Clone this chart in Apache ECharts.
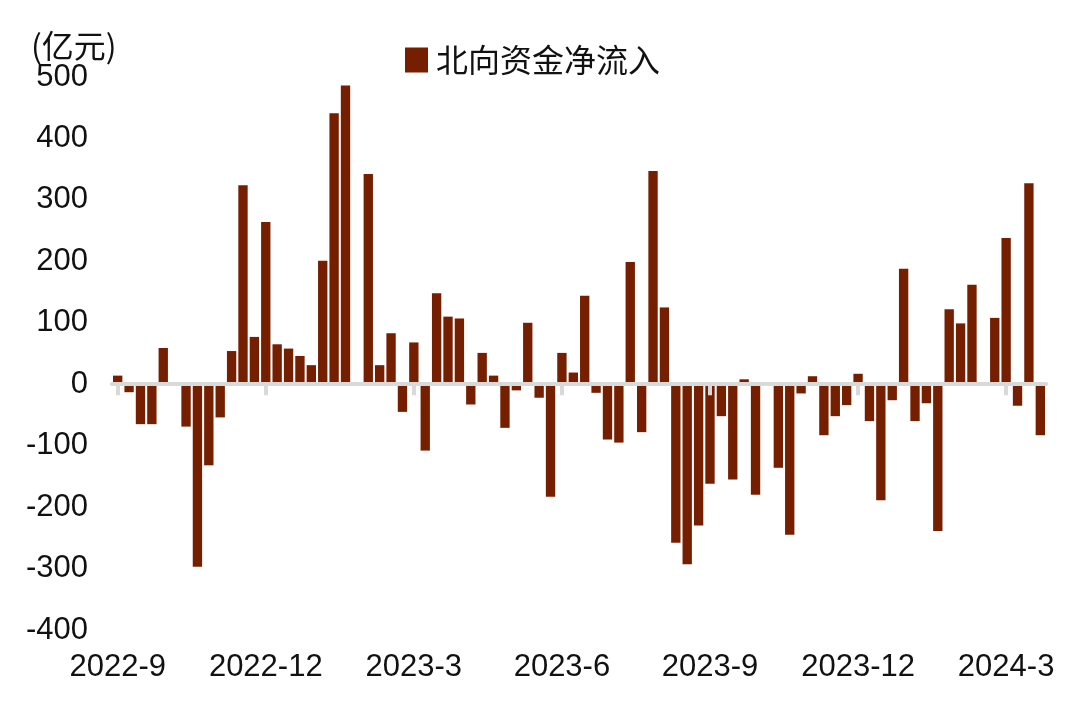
<!DOCTYPE html>
<html>
<head>
<meta charset="utf-8">
<script src="https://cdn.jsdelivr.net/npm/echarts@6/dist/echarts.min.js"></script>
<style>
html,body{margin:0;padding:0;background:#fff;}
#chart{width:1080px;height:711px;}
</style>
</head>
<body>
<div id="chart"></div>
<script>
// Weekly dates (week ending Friday), 2022-09-02 .. 2024-03-22
const categories = [
  '2022-09-02','2022-09-09','2022-09-16','2022-09-23','2022-09-30','2022-10-07','2022-10-14','2022-10-21','2022-10-28',
  '2022-11-04','2022-11-11','2022-11-18','2022-11-25','2022-12-02','2022-12-09','2022-12-16','2022-12-23','2022-12-30',
  '2023-01-06','2023-01-13','2023-01-20','2023-01-27','2023-02-03','2023-02-10','2023-02-17','2023-02-24','2023-03-03',
  '2023-03-10','2023-03-17','2023-03-24','2023-03-31','2023-04-07','2023-04-14','2023-04-21','2023-04-28','2023-05-05',
  '2023-05-12','2023-05-19','2023-05-26','2023-06-02','2023-06-09','2023-06-16','2023-06-23','2023-06-30','2023-07-07',
  '2023-07-14','2023-07-21','2023-07-28','2023-08-04','2023-08-11','2023-08-18','2023-08-25','2023-09-01','2023-09-08',
  '2023-09-15','2023-09-22','2023-09-29','2023-10-06','2023-10-13','2023-10-20','2023-10-27','2023-11-03','2023-11-10',
  '2023-11-17','2023-11-24','2023-12-01','2023-12-08','2023-12-15','2023-12-22','2023-12-29','2024-01-05','2024-01-12',
  '2024-01-19','2024-01-26','2024-02-02','2024-02-09','2024-02-16','2024-02-23','2024-03-01','2024-03-08','2024-03-15',
  '2024-03-22'
];

// 北向资金净流入 (亿元)
const netInflow = [
  14, -13, -65, -65, 59, 0, -69, -297, -132,
  -54, 54, 324, 77, 264, 65, 58, 46, 31,
  201, 441, 486, 0, 342, 31, 83, -45, 68,
  -108, 148, 110, 107, -33, 51, 14, -71, -10,
  100, -22, -183, 51, 19, 144, -14, -90, -95,
  199, -78, 347, 125, -258, -293, -230, -162, -52,
  -155, 8, -180, 0, -136, -245, -15, 13, -83,
  -52, -34, 17, -60, -189, -26, 188, -60, -31,
  -239, 122, 99, 162, 0, 108, 238, -35, 327,
  -83
];

// Quarter tick labels: category index -> label
const tickIndices = [0, 13, 26, 39, 52, 65, 78];
const tickLabels = ['2022-9', '2022-12', '2023-3', '2023-6', '2023-9', '2023-12', '2024-3'];

const yTicks = { min: -400, max: 500, interval: 100 };
const seriesName = '北向资金净流入';
const unitLabel = '(亿元)';

const FONT = "'Liberation Sans', Arial, 'Noto Sans CJK SC', sans-serif";
const CJK_FONT = "'Noto Sans CJK SC', sans-serif";
const BAR_COLOR = '#751f00';
const AXIS_GRAY = '#d9d9d9';

const labelMap = {};
tickIndices.forEach((idx, k) => { labelMap[idx] = tickLabels[k]; });
const isTick = (idx) => labelMap[idx] !== undefined;

const chart = echarts.init(document.getElementById('chart'), null, { renderer: 'canvas' });
chart.setOption({
  animation: false,
  backgroundColor: '#fff',
  title: {
    text: unitLabel,
    left: 26,
    top: 25,
    textStyle: { fontFamily: CJK_FONT, fontSize: 32, fontWeight: 'normal', color: '#111' }
  },
  legend: {
    data: [seriesName],
    left: 400,
    top: 39,
    icon: 'rect',
    itemWidth: 23,
    itemHeight: 25,
    itemGap: 10,
    textStyle: { fontFamily: CJK_FONT, fontSize: 32, color: '#111', padding: [0, 0, 0, 3] }
  },
  grid: { left: 112, right: 34, top: 77, bottom: 81, containLabel: false },
  xAxis: [
    {
      type: 'category',
      data: categories,
      z: 5,
      axisLine: { show: true, onZero: true, lineStyle: { color: AXIS_GRAY, width: 4 } },
      axisTick: {
        show: true,
        alignWithLabel: true,
        length: 11,
        interval: (idx) => isTick(idx),
        lineStyle: { color: AXIS_GRAY, width: 4 }
      },
      axisLabel: { show: false },
      splitLine: { show: false }
    },
    {
      type: 'category',
      data: categories,
      position: 'bottom',
      axisLine: { show: false, onZero: false },
      axisTick: { show: false },
      splitLine: { show: false },
      axisLabel: {
        show: true,
        interval: (idx) => isTick(idx),
        formatter: (val, idx) => labelMap[idx] || '',
        margin: 22,
        fontFamily: FONT,
        fontSize: 31,
        color: '#111'
      }
    }
  ],
  yAxis: {
    type: 'value',
    min: yTicks.min,
    max: yTicks.max,
    interval: yTicks.interval,
    axisLine: { show: false },
    axisTick: { show: false },
    splitLine: { show: false },
    axisLabel: { margin: 24, fontFamily: FONT, fontSize: 31, color: '#111' }
  },
  series: [
    {
      name: seriesName,
      type: 'bar',
      xAxisIndex: 0,
      data: netInflow,
      barCategoryGap: '18%',
      itemStyle: { color: BAR_COLOR }
    }
  ]
});
</script>
</body>
</html>
